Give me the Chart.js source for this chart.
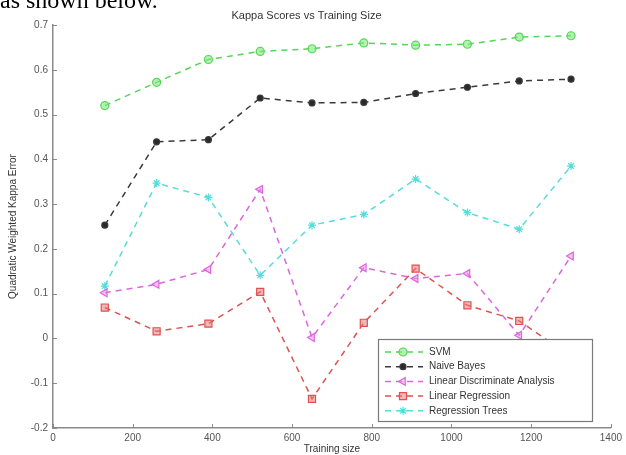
<!DOCTYPE html>
<html>
<head>
<meta charset="utf-8">
<script src="https://cdn.jsdelivr.net/npm/chart.js@4"></script>
<style>
  html, body { margin: 0; padding: 0; background: #fff; overflow: hidden; }
  #wrap { position: relative; width: 626px; height: 455px; overflow: hidden; }
  #lead { position: absolute; left: 0; top: -12px; font: 24px "Liberation Serif", "Times New Roman", serif; line-height: 24px; color: #000; white-space: nowrap; }
  canvas { position: absolute; left: 0; top: 0; }
</style>
</head>
<body>
<div id="wrap">
  <canvas id="chart" width="626" height="455"></canvas>
  <div id="lead">as shown below.</div>
</div>
<script>
// Training set sizes (x) and kappa scores per model
const trainingSizes = [130, 260, 390, 520, 650, 780, 910, 1040, 1170, 1300];
const svm          = [0.520, 0.572, 0.623, 0.641, 0.647, 0.660, 0.655, 0.657, 0.673, 0.676];
const naiveBayes   = [0.253, 0.439, 0.444, 0.537, 0.526, 0.527, 0.547, 0.561, 0.575, 0.579];
const lda          = [0.102, 0.121, 0.154, 0.333, 0.002, 0.158, 0.134, 0.145, 0.007, 0.184];
const linearReg    = [0.069, 0.016, 0.033, 0.104, -0.135, 0.035, 0.156, 0.074, 0.039, -0.040];
const regTrees     = [0.117, 0.347, 0.315, 0.141, 0.253, 0.277, 0.356, 0.281, 0.244, 0.385];

const seriesNames = ['SVM', 'Naive Bayes', 'Linear Discriminate Analysis', 'Linear Regression', 'Regression Trees'];
const xTicks = [0, 200, 400, 600, 800, 1000, 1200, 1400];
const yTicks = [-0.2, -0.1, 0, 0.1, 0.2, 0.3, 0.4, 0.5, 0.6, 0.7];

const FONT = '"Liberation Sans", Arial, sans-serif';
const AXIS_COLOR = '#8a8a8a';

function pts(values) {
  return trainingSizes.map((x, i) => ({ x: x, y: values[i] }));
}

function series(label, values, color, fill, style, radius, rotation) {
  return {
    label: label,
    data: pts(values),
    borderColor: color,
    borderWidth: 1.5,
    borderDash: [6, 5],
    fill: false,
    tension: 0,
    pointStyle: style,
    pointRadius: radius,
    pointRotation: rotation || 0,
    pointBorderColor: color,
    pointBackgroundColor: fill,
    pointBorderWidth: 1.2
  };
}

// Inward tick marks on both axes
const innerTicks = {
  id: 'innerTicks',
  afterDraw(chart) {
    const ctx = chart.ctx;
    const xs = chart.scales.x, ys = chart.scales.y;
    const len = 4;
    ctx.save();
    ctx.strokeStyle = AXIS_COLOR;
    ctx.lineWidth = 1;
    xTicks.forEach(v => {
      const px = Math.round(xs.getPixelForValue(v)) + 0.5;
      ctx.beginPath();
      ctx.moveTo(px, ys.bottom);
      ctx.lineTo(px, ys.bottom - len);
      ctx.stroke();
    });
    yTicks.forEach(v => {
      const py = Math.round(ys.getPixelForValue(v)) + 0.5;
      ctx.beginPath();
      ctx.moveTo(xs.left, py);
      ctx.lineTo(xs.left + len, py);
      ctx.stroke();
    });
    ctx.restore();
  }
};

// Boxed legend drawn inside the plot, over the lines
const boxLegend = {
  id: 'boxLegend',
  afterDatasetsDraw(chart, args, opts) {
    const ctx = chart.ctx;
    const { left, top, width, height, rowStart, rowGap } = opts;
    ctx.save();
    ctx.fillStyle = '#fff';
    ctx.fillRect(left, top, width, height);
    ctx.strokeStyle = '#7a7a7a';
    ctx.lineWidth = 1.2;
    ctx.strokeRect(left + 0.5, top + 0.5, width, height);
    chart.data.datasets.forEach((ds, i) => {
      const y = top + rowStart + i * rowGap;
      const x0 = left + 7, x1 = left + 45, xm = left + 25;
      ctx.strokeStyle = ds.borderColor;
      ctx.lineWidth = 1.5;
      ctx.setLineDash([6, 5]);
      ctx.beginPath();
      ctx.moveTo(x0, y);
      ctx.lineTo(x1, y);
      ctx.stroke();
      ctx.setLineDash([]);
      ctx.fillStyle = ds.pointBackgroundColor;
      ctx.strokeStyle = ds.pointBorderColor;
      ctx.lineWidth = ds.pointBorderWidth;
      if (Chart.helpers && Chart.helpers.drawPoint) {
        Chart.helpers.drawPoint(ctx, {
          pointStyle: ds.pointStyle,
          rotation: ds.pointRotation,
          radius: ds.pointRadius,
          borderWidth: ds.pointBorderWidth
        }, xm, y);
      } else {
        ctx.beginPath();
        ctx.arc(xm, y, ds.pointRadius, 0, Math.PI * 2);
        ctx.fill();
        ctx.stroke();
      }
      ctx.fillStyle = '#333';
      ctx.font = '10px ' + FONT;
      ctx.textBaseline = 'middle';
      ctx.textAlign = 'left';
      ctx.fillText(ds.label, left + 51, y);
    });
    ctx.restore();
  }
};

new Chart(document.getElementById('chart'), {
  type: 'line',
  data: {
    datasets: [
      series(seriesNames[0], svm, '#55d655', 'rgba(130,230,130,0.6)', 'circle', 4),
      series(seriesNames[1], naiveBayes, '#3a3a3a', '#2a2a2a', 'circle', 3),
      series(seriesNames[2], lda, '#dd66dd', 'rgba(235,150,235,0.55)', 'triangle', 4.5, -90),
      series(seriesNames[3], linearReg, '#e05252', 'rgba(235,120,120,0.55)', 'rect', 5),
      series(seriesNames[4], regTrees, '#55dcdc', '#55dcdc', 'star', 4)
    ]
  },
  options: {
    responsive: false,
    animation: false,
    layout: { padding: { left: 0, right: 13, top: 0, bottom: 0 } },
    plugins: {
      legend: { display: false },
      tooltip: { enabled: false },
      title: {
        display: true,
        text: 'Kappa Scores vs Training Size',
        color: '#333',
        font: { family: FONT, size: 11, weight: 'normal' },
        padding: { top: 9, bottom: 2.8 }
      },
      boxLegend: { left: 378, top: 339, width: 214, height: 82, rowStart: 13, rowGap: 14.7 }
    },
    scales: {
      x: {
        type: 'linear',
        min: 0,
        max: 1400,
        afterBuildTicks(scale) { scale.ticks = xTicks.map(v => ({ value: v })); },
        afterFit(scale) { scale.height = 27; },
        ticks: {
          color: '#555',
          padding: 4,
          font: { family: FONT, size: 10 },
          callback: v => String(v)
        },
        grid: { display: false, drawTicks: false },
        border: { display: true, color: AXIS_COLOR, width: 1.5 },
        title: {
          display: true,
          text: 'Training size',
          color: '#333',
          font: { family: FONT, size: 10 },
          padding: { top: 0, bottom: 0 }
        }
      },
      y: {
        type: 'linear',
        min: -0.2,
        max: 0.7,
        afterBuildTicks(scale) { scale.ticks = yTicks.map(v => ({ value: v })); },
        afterFit(scale) { scale.width = 53; },
        ticks: {
          color: '#555',
          padding: 5,
          font: { family: FONT, size: 10 },
          callback: v => Math.abs(v) < 1e-9 ? '0' : Number(v).toFixed(1)
        },
        grid: { display: false, drawTicks: false },
        border: { display: true, color: AXIS_COLOR, width: 1.5 },
        title: {
          display: true,
          text: 'Quadratic Weighted Kappa Error',
          color: '#333',
          font: { family: FONT, size: 10 },
          padding: { top: 7, bottom: 0 }
        }
      }
    }
  },
  plugins: [innerTicks, boxLegend]
});
</script>
</body>
</html>
